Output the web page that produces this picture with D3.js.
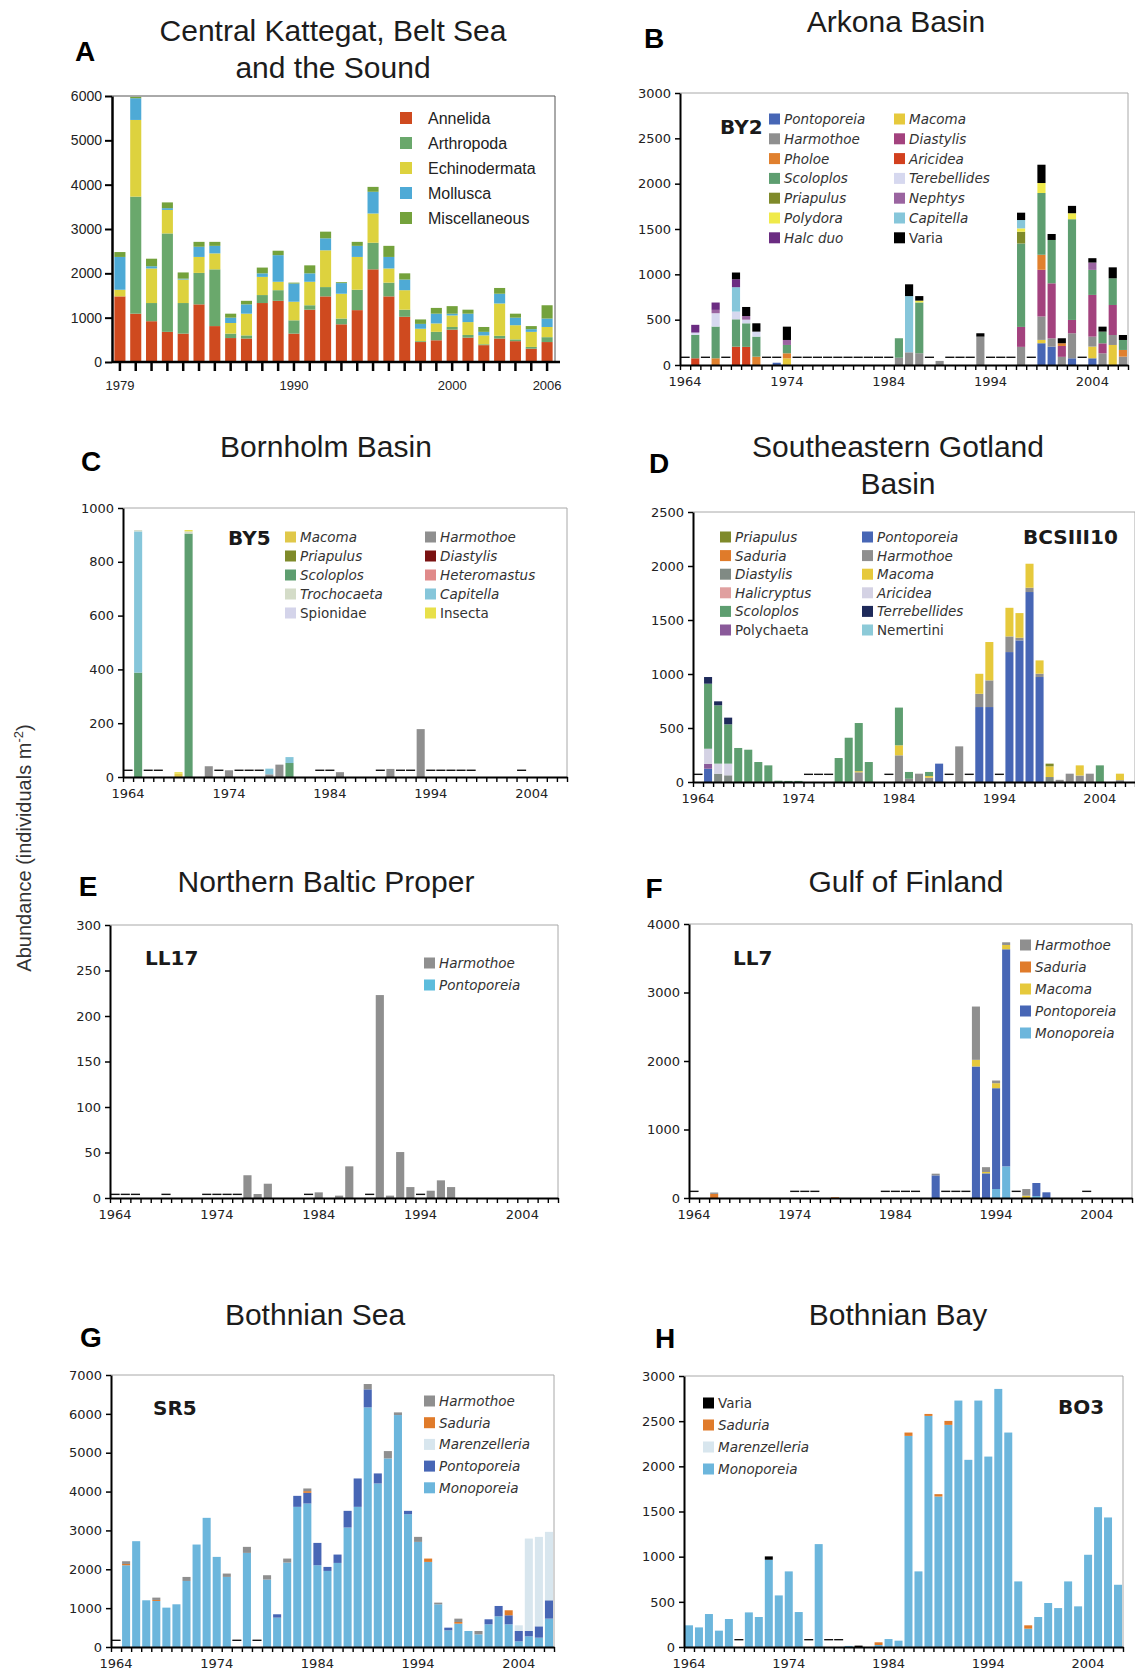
<!DOCTYPE html>
<html>
<head>
<meta charset="utf-8">
<script src="https://cdn.jsdelivr.net/npm/d3@7"></script>
<style>
  body { margin: 0; background: #fff; }
  svg { display: block; }
</style>
</head>
<body>
<svg id="chart" width="1135" height="1675"></svg>
<script>
// ---------------- data ----------------
// Panel A: Central Kattegat, Belt Sea and the Sound (stacked, one value per year)
const aYears = [1979,1980,1981,1982,1983,1984,1985,1986,1987,1988,1989,1990,1991,1992,
                1993,1994,1995,1996,1997,1998,1999,2000,2001,2002,2003,2004,2005,2006];
const aLabels = [1979, 1990, 2000, 2006];
const aAnnelida      = [1480,1090,920,680,640,1300,810,540,530,1330,1380,640,1180,1480,850,1170,2090,1480,1020,450,490,730,550,380,530,470,300,450];
const aArthropoda    = [0,2640,410,2220,690,710,1280,100,70,180,240,300,100,210,130,460,600,310,160,20,190,60,60,20,60,40,40,110];
const aEchinodermata = [150,1730,780,530,530,360,360,240,490,410,190,420,530,830,560,740,660,320,440,280,190,260,290,200,730,320,340,230];
const aMollusca      = [740,490,50,40,20,230,170,120,210,80,600,410,190,270,240,250,490,260,240,110,220,40,190,80,220,170,60,190];
const aMisc          = [110,30,170,130,140,110,90,90,80,130,100,20,180,150,20,90,110,250,140,100,130,170,90,110,130,90,70,300];

// Panels B-H: years 1964-2007, series given as [year, value] pairs
const decadeYears = [1964, 1974, 1984, 1994, 2004];

// B: Arkona Basin, BY2
const bPontoporeia  = [[1973,25],[1999,240],[2000,202],[2002,74],[2004,74]];
const bMacoma       = [[1974,74],[1999,37],[2004,129],[2006,221]];
const bHarmothoe    = [[1985,80],[1986,140],[1987,130],[1989,45],[1993,313],[1997,200],[1999,258],[2000,92],[2001,90],[2002,276],[2004,110],[2005,129],[2006,110],[2007,92]];
const bDiastylis    = [[1997,220],[1999,515],[2000,607],[2001,120],[2002,147],[2004,460],[2005,110],[2006,331]];
const bPholoe       = [[1967,74],[1971,92],[1974,55],[1999,166],[2001,30],[2007,74]];
const bAricidea     = [[1965,74],[1969,202],[1970,200]];
const bScoloplos    = [[1965,258],[1967,350],[1969,302],[1970,260],[1971,221],[1974,92],[1985,215],[1987,560],[1997,920],[1999,681],[2000,478],[2002,1111],[2004,276],[2005,129],[2006,294],[2007,110]];
const bTerebellides = [[1965,26],[1967,147],[1969,85],[1970,40],[1971,55]];
const bPriapulus    = [[1997,130]];
const bNephtys      = [[1967,37],[1970,40],[1974,55],[2004,81]];
const bPolydora     = [[1987,20],[1997,37],[1999,110],[2002,66]];
const bCapitella    = [[1969,269],[1986,620],[1997,92]];
const bHalcduo      = [[1965,85],[1967,81],[1969,88]];
const bVaria        = [[1969,74],[1970,100],[1971,92],[1974,147],[1986,130],[1987,50],[1993,37],[1997,81],[1999,202],[2000,66],[2001,55],[2002,81],[2004,48],[2005,55],[2006,121],[2007,55]];
const bDashYears = [1964,1966,1968,1972,1973,1975,1976,1977,1978,1979,1980,1981,1982,1983,1984,1988,1990,1991,1992,1994,1995,1996,1998,2003];

// C: Bornholm Basin, BY5
const cMacoma       = [[1969,12]];
const cHarmothoe    = [[1972,40],[1974,25],[1978,10],[1979,46],[1985,18],[1990,30],[1993,178]];
const cPriapulus    = [];
const cDiastylis    = [];
const cScoloplos    = [[1965,388],[1970,905],[1980,52]];
const cHeteromastus = [];
const cTrochocaeta  = [[1965,5],[1970,8]];
const cCapitella    = [[1965,525],[1978,21],[1980,22]];
const cSpionidae    = [];
const cInsecta      = [[1969,6],[1970,5]];
const cDashYears = [1964,1966,1967,1973,1975,1976,1977,1983,1984,1989,1991,1992,1994,1995,1996,1997,1998,2003];

// D: Southeastern Gotland Basin, BCSIII10
const dPriapulus     = [[1999,25]];
const dPontoporeia   = [[1965,123],[1988,170],[1992,694],[1993,694],[1995,1203],[1996,1311],[1997,1759],[1998,972]];
const dSaduria       = [];
const dHarmothoe     = [[1980,90],[1984,247],[1985,30],[1986,77],[1987,40],[1990,330],[1992,123],[1993,247],[1995,145],[1996,25],[1997,40],[1998,31],[2000,20],[2001,77],[2002,60],[2003,77],[2006,17]];
const dDiastylis     = [[1966,77],[1967,62],[1999,46]];
const dMacoma        = [[1980,10],[1984,93],[1987,15],[1992,185],[1993,355],[1995,265],[1996,228],[1997,222],[1998,123],[1999,99],[2002,94],[2006,60]];
const dHalicryptus   = [];
const dAricidea      = [[1965,139],[1966,93],[1967,108]];
const dScoloplos     = [[1965,602],[1966,540],[1967,364],[1968,315],[1969,299],[1970,185],[1971,154],[1972,12],[1973,10],[1974,10],[1978,222],[1979,410],[1980,446],[1981,185],[1984,349],[1985,63],[1987,38],[2004,154]];
const dTerrebellides = [[1965,62],[1966,37],[1967,62]];
const dPolychaeta    = [[1965,46]];
const dNemertini     = [];
const dDashYears = [1964,1975,1976,1977,1983,1989,1991,1994];

// E: Northern Baltic Proper, LL17
const eHarmothoe   = [[1977,25],[1978,4.4],[1979,15.7],[1984,6.2],[1986,2.6],[1987,34.8],[1990,223],[1991,2.6],[1992,50.5],[1993,12],[1995,8],[1996,19.4],[1997,12]];
const ePontoporeia = [];
const eDashYears = [1964,1965,1966,1969,1973,1974,1975,1976,1983,1989,1994];

// F: Gulf of Finland, LL7
const fHarmothoe   = [[1966,20],[1988,25],[1992,778],[1993,70],[1994,39],[1995,39],[1997,97]];
const fSaduria     = [[1966,60],[1978,10]];
const fMacoma      = [[1992,97],[1993,20],[1994,73],[1995,63],[1997,34]];
const fPontoporeia = [[1988,330],[1992,1920],[1993,360],[1994,1472],[1995,3169],[1998,190],[1999,83]];
const fMonoporeia  = [[1994,131],[1995,462],[1998,29]];
const fDashYears = [1964,1974,1975,1976,1983,1984,1985,1986,1989,1990,1991,1996,2003];

// G: Bothnian Sea, SR5
const gHarmothoe     = [[1965,70],[1968,60],[1971,103],[1975,86],[1977,155],[1979,112],[1981,103],[1983,69],[1989,137],[1991,189],[1992,69],[1994,129],[1996,43],[1998,86],[2000,86]];
const gSaduria       = [[1965,33],[1968,26],[1983,43],[1995,86],[1998,43],[2003,129]];
const gMarenzelleria = [[2004,146],[2005,2379],[2006,2302],[2007,1761]];
const gPontoporeia   = [[1980,86],[1982,283],[1983,275],[1984,575],[1985,103],[1986,215],[1987,429],[1988,730],[1989,464],[1990,258],[1993,86],[1997,69],[2001,129],[2002,266],[2003,232],[2004,266],[2005,137],[2006,292],[2007,472]];
const gMonoporeia    = [[1965,2104],[1966,2723],[1967,1202],[1968,1185],[1969,1013],[1970,1099],[1971,1700],[1972,2637],[1973,3324],[1974,2319],[1975,1804],
                        [1977,2422],[1979,1735],[1980,756],[1981,2173],[1982,3607],[1983,3693],[1984,2104],[1985,1958],[1986,2164],[1987,3075],[1988,3607],
                        [1989,6167],[1990,4209],[1991,4853],[1992,5969],[1993,3418],[1994,2705],[1995,2190],[1996,1099],[1997,429],[1998,601],[1999,412],
                        [2000,326],[2001,584],[2002,790],[2003,584],[2004,146],[2005,275],[2006,240],[2007,730]];
const gDashYears = [1964,1976,1978];

// H: Bothnian Bay, BO3
const hVaria         = [[1972,37],[1981,15]];
const hSaduria       = [[1983,30],[1986,37],[1988,22],[1989,26],[1990,44],[1998,37]];
const hMarenzelleria = [];
const hMonoporeia    = [[1964,240],[1965,217],[1966,365],[1967,181],[1968,310],[1970,383],[1971,332],[1972,966],[1973,571],[1974,837],[1975,387],
                        [1977,1139],[1980,12],[1983,22],[1984,88],[1985,70],[1986,2337],[1987,837],[1988,2558],[1989,1666],[1990,2459],[1991,2728],
                        [1992,2072],[1993,2728],[1994,2108],[1995,2857],[1996,2374],[1997,726],[1998,203],[1999,332],[2000,487],[2001,431],[2002,726],
                        [2003,450],[2004,1021],[2005,1548],[2006,1434],[2007,689]];
const hDashYears = [1969,1976,1978,1979];

// ---------------- drawing ----------------
const svg = d3.select('#chart');
svg.append('rect').attr('width', 1135).attr('height', 1675).attr('fill', '#fff');

const allYears = d3.range(1964, 2008);
const sans = "'Liberation Sans', Arial, sans-serif";
const verd = "'DejaVu Sans', Verdana, sans-serif";
const plainNum = d3.format('d');

function title(lines, cx, baseline) {
  lines.forEach((t, i) => {
    svg.append('text').attr('x', cx).attr('y', baseline + i * 37)
      .attr('text-anchor', 'middle').attr('font-family', sans).attr('font-size', 30)
      .attr('fill', '#1c1c1c').text(t);
  });
}

function letter(t, x, y) {
  svg.append('text').attr('x', x).attr('y', y).attr('text-anchor', 'middle')
    .attr('font-family', sans).attr('font-weight', 'bold').attr('font-size', 28)
    .attr('fill', '#000').text(t);
}

// Panel A
function drawKattegat() {
  const left = 112, right = 555, top = 96, bottom = 362;
  const keys = ['Annelida', 'Arthropoda', 'Echinodermata', 'Mollusca', 'Miscellaneous'];
  const colors = ['#cf4a1f', '#6aa86c', '#ddd23e', '#4eaad6', '#74a23c'];
  const cols = [aAnnelida, aArthropoda, aEchinodermata, aMollusca, aMisc];
  const rows = aYears.map((yr, i) => {
    const r = { year: yr };
    keys.forEach((k, j) => r[k] = cols[j][i]);
    return r;
  });

  const x = d3.scaleBand().domain(aYears).range([left, right]).paddingInner(0.3).paddingOuter(0.15);
  const y = d3.scaleLinear().domain([0, 6000]).range([bottom, top]);
  const g = svg.append('g');

  g.append('path').attr('d', `M${left},${top}H${right}V${bottom}`)
    .attr('fill', 'none').attr('stroke', '#555').attr('stroke-width', 1);

  const layers = d3.stack().keys(keys)(rows);
  g.selectAll('g.layer').data(layers).join('g').attr('fill', (d, i) => colors[i])
    .selectAll('rect').data(d => d.filter(v => v[1] > v[0])).join('rect')
    .attr('x', d => x(d.data.year)).attr('width', x.bandwidth())
    .attr('y', d => y(d[1])).attr('height', d => y(d[0]) - y(d[1]));

  const yAxis = g.append('g').attr('transform', `translate(${left},0)`)
    .call(d3.axisLeft(y).tickValues(d3.range(0, 6001, 1000)).tickFormat(plainNum)
      .tickSize(7).tickSizeOuter(0).tickPadding(3));
  yAxis.select('.domain').attr('stroke-width', 2.5);
  yAxis.selectAll('.tick line').attr('stroke-width', 2);
  yAxis.selectAll('text').attr('font-family', sans).attr('font-size', 14).attr('fill', '#222');

  const xAxis = g.append('g').attr('transform', `translate(0,${bottom})`)
    .call(d3.axisBottom(x).tickValues(aYears).tickFormat(d => aLabels.includes(d) ? d : '')
      .tickSize(9).tickSizeOuter(0).tickPadding(10));
  xAxis.select('.domain').attr('stroke-width', 2.5).attr('d', `M${left},0H${right + 5}`);
  xAxis.selectAll('.tick line').attr('stroke-width', 2.5);
  xAxis.selectAll('text').attr('font-family', sans).attr('font-size', 13).attr('fill', '#222');

  keys.forEach((k, i) => {
    const cy = 118 + i * 25;
    g.append('rect').attr('x', 400).attr('y', cy - 6).attr('width', 12).attr('height', 12).attr('fill', colors[i]);
    g.append('text').attr('x', 428).attr('y', cy + 5.5).attr('font-family', sans)
      .attr('font-size', 16).attr('fill', '#222').text(k);
  });
}

function drawBaltic(p) {
  const g = svg.append('g');
  const x = d3.scaleBand().domain(allYears).range([p.left, p.right]).paddingInner(0.2).paddingOuter(0.1);
  const xb = d3.scaleLinear().domain([0, allYears.length]).range([p.left, p.right]);
  const y = d3.scaleLinear().domain([0, p.yMax]).range([p.bottom, p.top]);

  g.append('path').attr('d', `M${p.left},${p.top}H${p.right}V${p.bottom}`)
    .attr('fill', 'none').attr('stroke', '#a8a8a8').attr('stroke-width', 1);

  const rows = allYears.map(yr => {
    const r = { year: yr };
    p.series.forEach(s => {
      const hit = s.data.find(v => v[0] === yr);
      r[s.name] = hit ? hit[1] : 0;
    });
    return r;
  });
  const layers = d3.stack().keys(p.series.map(s => s.name))(rows);
  g.selectAll('g.layer').data(layers).join('g').attr('fill', (d, i) => p.series[i].color)
    .selectAll('rect').data(d => d.filter(v => v[1] > v[0])).join('rect')
    .attr('x', d => x(d.data.year)).attr('width', x.bandwidth())
    .attr('y', d => y(d[1])).attr('height', d => y(d[0]) - y(d[1]));

  // dashed marks for years without data
  g.selectAll('line.dash').data(p.dashYears).join('line').attr('class', 'dash')
    .attr('x1', d => x(d) - 0.5).attr('x2', d => x(d) + x.bandwidth() + 0.5)
    .attr('y1', y(p.dashLevel)).attr('y2', y(p.dashLevel))
    .attr('stroke', '#111').attr('stroke-width', 1.4);

  const yAxis = g.append('g').attr('transform', `translate(${p.left},0)`)
    .call(d3.axisLeft(y).tickValues(p.yTicks).tickFormat(plainNum).tickSize(5).tickSizeOuter(0).tickPadding(4));
  yAxis.select('.domain').attr('stroke-width', 2);
  yAxis.selectAll('.tick line').attr('stroke-width', 1.5);
  yAxis.selectAll('text').attr('font-family', verd).attr('font-size', 13).attr('fill', '#222');

  const xTicks = g.append('g').attr('transform', `translate(0,${p.bottom})`)
    .call(d3.axisBottom(xb).tickValues(d3.range(allYears.length + 1)).tickFormat('').tickSize(5).tickSizeOuter(0));
  xTicks.select('.domain').attr('stroke-width', 2);
  xTicks.selectAll('.tick line').attr('stroke-width', 1.4);

  const xLab = g.append('g').attr('transform', `translate(0,${p.bottom})`)
    .call(d3.axisBottom(x).tickValues(decadeYears).tickSize(0).tickPadding(12));
  xLab.select('.domain').remove();
  xLab.selectAll('text').attr('font-family', verd).attr('font-size', 13).attr('fill', '#222');

  // station name
  g.append('text').attr('x', p.station[1]).attr('y', p.station[2])
    .attr('font-family', verd).attr('font-weight', 'bold').attr('font-size', 20)
    .attr('fill', '#1a1a1a').text(p.station[0]);

  // legend
  p.legend.cols.forEach(col => {
    col.names.forEach((name, i) => {
      const s = p.series.find(d => d.name === name);
      const cy = p.legend.y0 + i * p.legend.dy;
      g.append('rect').attr('x', col.x).attr('y', cy - 5.5).attr('width', 11).attr('height', 11).attr('fill', s.color);
      g.append('text').attr('x', col.x + 15).attr('y', cy + 5)
        .attr('font-family', verd).attr('font-size', 13.5)
        .attr('font-style', s.plain ? 'normal' : 'italic')
        .attr('fill', '#333').text(name);
    });
  });
}

drawKattegat();
title(['Central Kattegat, Belt Sea', 'and the Sound'], 333, 41);
letter('A', 85, 61);

const C = {
  pont: '#4766b5', mono: '#6cb6dc', marenz: '#d8e6ee', harm: '#8f8f8f', sad: '#e07b2a',
  macoma: '#e6c93c', varia: '#000000', scol: '#5e9e70', capi: '#86c6da', pria: '#7f8a2a'
};

drawBaltic({
  left: 680, right: 1128, top: 93, bottom: 365, yMax: 3000, yTicks: d3.range(0, 3001, 500),
  station: ['BY2', 720, 134], dashYears: bDashYears, dashLevel: 85,
  series: [
    { name: 'Pontoporeia', data: bPontoporeia, color: C.pont },
    { name: 'Macoma', data: bMacoma, color: C.macoma },
    { name: 'Harmothoe', data: bHarmothoe, color: C.harm },
    { name: 'Diastylis', data: bDiastylis, color: '#a3427e' },
    { name: 'Pholoe', data: bPholoe, color: '#e0802e' },
    { name: 'Aricidea', data: bAricidea, color: '#d2401e' },
    { name: 'Scoloplos', data: bScoloplos, color: C.scol },
    { name: 'Terebellides', data: bTerebellides, color: '#d6d8ef' },
    { name: 'Priapulus', data: bPriapulus, color: C.pria },
    { name: 'Nephtys', data: bNephtys, color: '#9a64a0' },
    { name: 'Polydora', data: bPolydora, color: '#f0ea4a' },
    { name: 'Capitella', data: bCapitella, color: C.capi },
    { name: 'Halc duo', data: bHalcduo, color: '#6b2c82' },
    { name: 'Varia', data: bVaria, color: C.varia, plain: true }
  ],
  legend: { y0: 119, dy: 19.8, cols: [
    { x: 769, names: ['Pontoporeia', 'Harmothoe', 'Pholoe', 'Scoloplos', 'Priapulus', 'Polydora', 'Halc duo'] },
    { x: 894, names: ['Macoma', 'Diastylis', 'Aricidea', 'Terebellides', 'Nephtys', 'Capitella', 'Varia'] }
  ] }
});
title(['Arkona Basin'], 896, 32);
letter('B', 654, 48);

drawBaltic({
  left: 123, right: 567, top: 508, bottom: 777, yMax: 1000, yTicks: d3.range(0, 1001, 200),
  station: ['BY5', 228, 545], dashYears: cDashYears, dashLevel: 25,
  series: [
    { name: 'Macoma', data: cMacoma, color: '#e0c84a' },
    { name: 'Harmothoe', data: cHarmothoe, color: C.harm },
    { name: 'Priapulus', data: cPriapulus, color: C.pria },
    { name: 'Diastylis', data: cDiastylis, color: '#7a1212' },
    { name: 'Scoloplos', data: cScoloplos, color: C.scol },
    { name: 'Heteromastus', data: cHeteromastus, color: '#e08a8a' },
    { name: 'Capitella', data: cCapitella, color: C.capi },
    { name: 'Spionidae', data: cSpionidae, color: '#d4d4ea', plain: true },
    { name: 'Trochocaeta', data: cTrochocaeta, color: '#d4dcc8' },
    { name: 'Insecta', data: cInsecta, color: '#e8e04a', plain: true }
  ],
  legend: { y0: 537, dy: 19, cols: [
    { x: 285, names: ['Macoma', 'Priapulus', 'Scoloplos', 'Trochocaeta', 'Spionidae'] },
    { x: 425, names: ['Harmothoe', 'Diastylis', 'Heteromastus', 'Capitella', 'Insecta'] }
  ] }
});
title(['Bornholm Basin'], 326, 457);
letter('C', 91, 471);

drawBaltic({
  left: 693, right: 1135, top: 512, bottom: 782, yMax: 2500, yTicks: d3.range(0, 2501, 500),
  station: ['BCSIII10', 1023, 544], dashYears: dDashYears, dashLevel: 71,
  series: [
    { name: 'Pontoporeia', data: dPontoporeia, color: C.pont },
    { name: 'Polychaeta', data: dPolychaeta, color: '#8a5a9a', plain: true },
    { name: 'Diastylis', data: dDiastylis, color: '#808a84' },
    { name: 'Harmothoe', data: dHarmothoe, color: C.harm },
    { name: 'Aricidea', data: dAricidea, color: '#d4d2e4' },
    { name: 'Macoma', data: dMacoma, color: C.macoma },
    { name: 'Scoloplos', data: dScoloplos, color: C.scol },
    { name: 'Priapulus', data: dPriapulus, color: C.pria },
    { name: 'Saduria', data: dSaduria, color: C.sad },
    { name: 'Halicryptus', data: dHalicryptus, color: '#e0a0a0' },
    { name: 'Terrebellides', data: dTerrebellides, color: '#1e2a5a' },
    { name: 'Nemertini', data: dNemertini, color: '#8ccad8', plain: true }
  ],
  legend: { y0: 537, dy: 18.6, cols: [
    { x: 720, names: ['Priapulus', 'Saduria', 'Diastylis', 'Halicryptus', 'Scoloplos', 'Polychaeta'] },
    { x: 862, names: ['Pontoporeia', 'Harmothoe', 'Macoma', 'Aricidea', 'Terrebellides', 'Nemertini'] }
  ] }
});
title(['Southeastern Gotland', 'Basin'], 898, 457);
letter('D', 659, 473);

drawBaltic({
  left: 110, right: 558, top: 925, bottom: 1198, yMax: 300, yTicks: d3.range(0, 301, 50),
  station: ['LL17', 145, 965], dashYears: eDashYears, dashLevel: 4,
  series: [
    { name: 'Pontoporeia', data: ePontoporeia, color: '#5cbcdc' },
    { name: 'Harmothoe', data: eHarmothoe, color: C.harm }
  ],
  legend: { y0: 963, dy: 22, cols: [ { x: 424, names: ['Harmothoe', 'Pontoporeia'] } ] }
});
title(['Northern Baltic Proper'], 326, 892);
letter('E', 88, 896);

drawBaltic({
  left: 689, right: 1132, top: 924, bottom: 1198, yMax: 4000, yTicks: d3.range(0, 4001, 1000),
  station: ['LL7', 733, 965], dashYears: fDashYears, dashLevel: 97,
  series: [
    { name: 'Monoporeia', data: fMonoporeia, color: C.mono },
    { name: 'Pontoporeia', data: fPontoporeia, color: C.pont },
    { name: 'Macoma', data: fMacoma, color: C.macoma },
    { name: 'Saduria', data: fSaduria, color: C.sad },
    { name: 'Harmothoe', data: fHarmothoe, color: C.harm }
  ],
  legend: { y0: 945, dy: 22, cols: [ { x: 1020, names: ['Harmothoe', 'Saduria', 'Macoma', 'Pontoporeia', 'Monoporeia'] } ] }
});
title(['Gulf of Finland'], 906, 892);
letter('F', 654, 898);

drawBaltic({
  left: 111, right: 554, top: 1375, bottom: 1647, yMax: 7000, yTicks: d3.range(0, 7001, 1000),
  station: ['SR5', 153, 1415], dashYears: gDashYears, dashLevel: 172,
  series: [
    { name: 'Monoporeia', data: gMonoporeia, color: C.mono },
    { name: 'Pontoporeia', data: gPontoporeia, color: C.pont },
    { name: 'Marenzelleria', data: gMarenzelleria, color: C.marenz },
    { name: 'Saduria', data: gSaduria, color: C.sad },
    { name: 'Harmothoe', data: gHarmothoe, color: C.harm }
  ],
  legend: { y0: 1401, dy: 21.7, cols: [ { x: 424, names: ['Harmothoe', 'Saduria', 'Marenzelleria', 'Pontoporeia', 'Monoporeia'] } ] }
});
title(['Bothnian Sea'], 315, 1325);
letter('G', 91, 1347);

drawBaltic({
  left: 684, right: 1123, top: 1376, bottom: 1647, yMax: 3000, yTicks: d3.range(0, 3001, 500),
  station: ['BO3', 1058, 1414], dashYears: hDashYears, dashLevel: 81,
  series: [
    { name: 'Monoporeia', data: hMonoporeia, color: C.mono },
    { name: 'Marenzelleria', data: hMarenzelleria, color: C.marenz },
    { name: 'Saduria', data: hSaduria, color: C.sad },
    { name: 'Varia', data: hVaria, color: C.varia, plain: true }
  ],
  legend: { y0: 1403, dy: 22, cols: [ { x: 703, names: ['Varia', 'Saduria', 'Marenzelleria', 'Monoporeia'] } ] }
});
title(['Bothnian Bay'], 898, 1325);
letter('H', 665, 1348);

// shared y-axis label
const yl = svg.append('text').attr('transform', 'translate(31,848) rotate(-90)')
  .attr('text-anchor', 'middle').attr('font-family', sans).attr('font-size', 20).attr('fill', '#333');
yl.append('tspan').text('Abundance (individuals m');
yl.append('tspan').attr('font-size', 13).attr('dy', -8).text('-2');
yl.append('tspan').attr('dy', 8).text(')');
</script>
</body>
</html>
